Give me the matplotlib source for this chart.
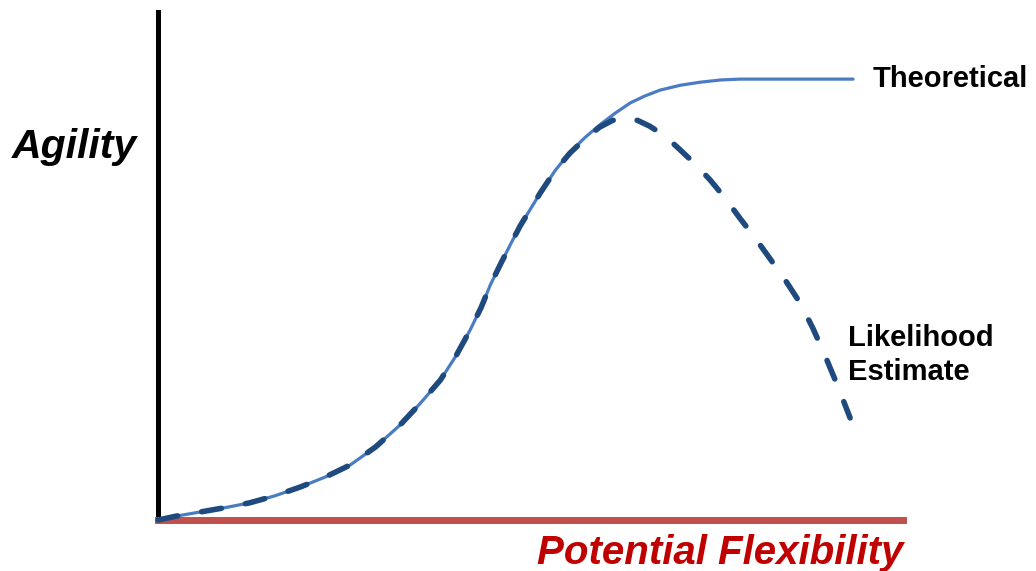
import matplotlib.pyplot as plt

plt.rcParams['font.family'] = ['Liberation Sans', 'DejaVu Sans']

# (arbitrary units: flexibility 0-100, agility 0-~115)
theo_x = [0, 2.5, 5.6, 9.0, 12.3, 15.7, 19.1, 22.5, 25.8, 29.2, 32.5, 35.2, 37.9,
          40.0, 41.9, 43.4, 44.6, 45.9, 47.3, 48.6, 51.3, 53.3, 55.3, 57.3, 59.3,
          61.4, 63.4, 65.4, 67.4, 70.1, 72.8, 75.5, 78.1, 82.0, 86.2, 93.3]
theo_y = [0, 0.9, 1.8, 2.8, 3.9, 5.5, 7.5, 9.8, 12.5, 16.6, 21.6, 26.5, 31.8,
          37.3, 43.2, 48.4, 53.4, 57.9, 62.6, 66.8, 74.3, 79.4, 83.6, 86.9, 89.8,
          92.5, 94.8, 96.4, 97.7, 98.8, 99.5, 100.0, 100.2, 100.2, 100.2, 100.2]

est_x = [0, 2.5, 5.6, 9.0, 12.3, 15.7, 19.1, 22.5, 25.8, 29.2, 32.5, 35.2, 37.9,
         40.0, 41.9, 43.4, 44.6, 45.9, 47.3, 48.6, 51.3, 53.3, 55.3, 57.3, 59.3,
         61.0, 62.7, 64.4, 66.0, 68.1, 70.1, 72.1, 74.1, 76.1, 78.1, 80.1, 82.1,
         84.2, 86.2, 87.9, 89.5, 91.2, 92.9]
est_y = [0, 0.9, 1.8, 2.8, 3.9, 5.5, 7.5, 9.8, 12.5, 16.6, 21.6, 26.5, 31.8,
         37.3, 43.2, 48.4, 53.4, 57.9, 62.6, 66.8, 74.3, 79.4, 83.4, 86.6, 89.3,
         90.8, 91.4, 90.8, 89.5, 87.2, 84.1, 80.9, 77.3, 73.2, 68.6, 64.2, 59.5,
         54.5, 49.3, 43.6, 37.5, 30.6, 23.2]

fig = plt.figure(figsize=(10.36, 5.71), dpi=100)
ax = fig.add_axes([158 / 1036, 51 / 571, 745 / 1036, 508 / 571])

ax.plot(theo_x, theo_y, color='#4a7cc4', linewidth=2.3, solid_capstyle='round',
        clip_on=False, zorder=3)
ax.plot(est_x, est_y, color='#1f4a7e', linewidth=4.0, dashes=(3.6, 4.4),
        dash_capstyle='round', clip_on=False, zorder=4)

ax.set_xlim(0, 100)
ax.set_ylim(0, 115.45)
ax.set_xticks([])
ax.set_yticks([])
for s in ['top', 'right']:
    ax.spines[s].set_visible(False)
ax.spines['left'].set_color('black')
ax.spines['left'].set_linewidth(3.6)
ax.spines['bottom'].set_color('#c0504d')
ax.spines['bottom'].set_linewidth(5)
ax.patch.set_alpha(0)

fig.text(12 / 1036, 1 - 147 / 571, 'Agility', fontsize=29.5, fontweight='bold',
         fontstyle='italic', ha='left', va='center')
fig.text(903 / 1036, 1 - 553 / 571, 'Potential Flexibility', fontsize=29,
         fontweight='bold', fontstyle='italic', color='#c00000',
         ha='right', va='center')
fig.text(873 / 1036, 1 - 79 / 571, 'Theoretical', fontsize=21, fontweight='bold',
         ha='left', va='center')
fig.text(848 / 1036, 1 - 355 / 571, 'Likelihood\nEstimate', fontsize=21,
         fontweight='bold', ha='left', va='center', linespacing=1.25)

fig.savefig('out.png', dpi=100)
